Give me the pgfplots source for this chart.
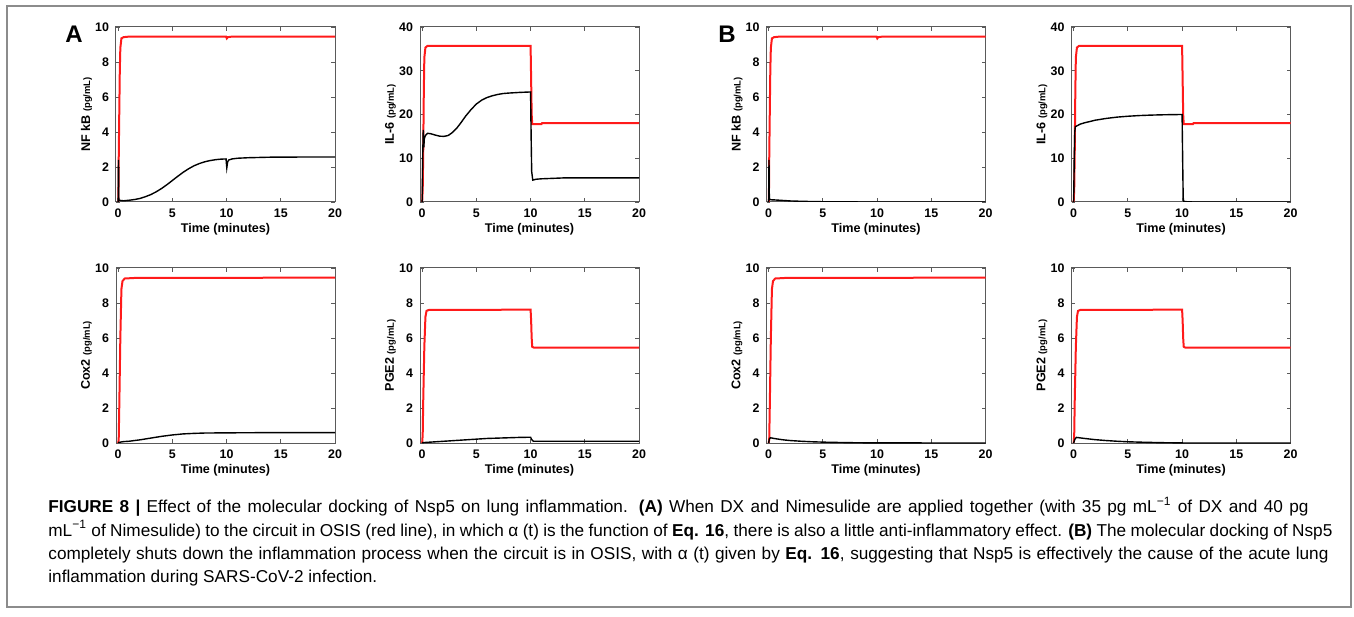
\documentclass[border=0pt]{standalone}
\usepackage{fontspec}
\setmainfont{Liberation Sans}
\usepackage{pgfplots}
\pgfplotsset{compat=1.18}
\definecolor{framegray}{HTML}{8C8C8C}
\definecolor{axgray}{HTML}{5A5A5A}
\definecolor{curvered}{HTML}{FF1A1A}

\pgfplotsset{
  panel/.style={
    scale only axis, width=109.5pt, height=87.5pt,
    xmin=-0.2, xmax=20, ymin=0,
    xtick={0,5,10,15,20},
    tick align=inside, major tick length=1.8pt,
    axis line style={axgray, line width=0.5pt},
    every tick/.style={axgray, line width=0.4pt},
    tick label style={font=\fontsize{6.2}{6.2}\selectfont\bfseries},
    /pgf/number format/assume math mode=true,
    xlabel={Time (minutes)},
    label style={font=\fontsize{6.3}{7}\selectfont\bfseries},
    xlabel style={at={(axis description cs:0.5,0)},anchor=center,yshift=-13.5pt},
    ylabel style={at={(axis description cs:-0.135,0.5)},anchor=center},
  },
  ten/.style={ymax=10, ytick={0,2,4,6,8,10}},
  forty/.style={ymax=40, ytick={0,10,20,30,40}},
  redc/.style={curvered, line width=1pt},
  blkc/.style={black, line width=0.7pt},
}
\newcommand{\unit}{{\fontsize{4.7}{5}\selectfont (pg/mL)}}

\begin{document}
\begin{tikzpicture}
\useasboundingbox (0,0) rectangle (677pt,308pt);
\draw[framegray, line width=0.75pt] (3.5pt,4.5pt) rectangle (675.5pt,305pt);

% ---------- panel A ----------
\begin{axis}[panel, ten, at={(58pt,207pt)}, anchor=south west, ylabel={NF kB \unit}]
\addplot[redc] coordinates {(0,0) (0.02,0) (0.05,2.4) (0.1,5) (0.15,7.5) (0.2,8.8) (0.3,9.35) (0.5,9.42) (1,9.45) (9.95,9.45) (10.02,9.35) (10.1,9.42) (10.5,9.45) (20,9.45)};
\addplot[blkc] coordinates {(0,0) (0.03,2.4) (0.06,0.1) (0.5,0.07) (1,0.1) (1.5,0.14) (2,0.2) (2.5,0.3) (3,0.42) (3.5,0.58) (4,0.77) (4.5,0.99) (5,1.23) (5.5,1.47) (6,1.7) (6.5,1.9) (7,2.07) (7.5,2.2) (8,2.3) (8.5,2.37) (9,2.42) (9.5,2.45) (9.95,2.46) (10.02,1.95) (10.1,2.3) (10.2,2.4) (10.5,2.46) (11,2.5) (12,2.53) (14,2.56) (17,2.57) (20,2.57)};
\end{axis}

\begin{axis}[panel, forty, at={(210pt,207pt)}, anchor=south west, ylabel={IL-6 \unit}]
\addplot[redc] coordinates {(0,0) (0.05,3) (0.1,12) (0.15,25) (0.2,33) (0.3,35.3) (0.5,35.7) (10,35.7) (10.05,28) (10.1,20) (10.15,17.8) (11,17.8) (11.05,18) (20,18)};
\addplot[blkc] coordinates {(0,0) (0.05,10.5) (0.1,16.5) (0.15,12.5) (0.2,14.5) (0.3,15.2) (0.5,15.7) (0.8,15.6) (1.2,15.3) (1.6,15.05) (2,15) (2.4,15.2) (2.8,15.9) (3.2,16.9) (3.6,18.2) (4,19.6) (4.5,21.1) (5,22.4) (5.5,23.3) (6,23.9) (6.5,24.3) (7,24.6) (7.5,24.8) (8,24.9) (9,25.05) (10,25.15) (10.05,15) (10.1,7) (10.2,5) (10.5,5.2) (11,5.3) (12,5.4) (13,5.5) (20,5.5)};
\end{axis}

\begin{axis}[panel, ten, at={(58pt,86.5pt)}, anchor=south west, ylabel={Cox2 \unit}]
\addplot[redc] coordinates {(0,0) (0.05,0.2) (0.1,2) (0.2,6) (0.3,8.8) (0.4,9.25) (0.6,9.4) (1.5,9.43) (20,9.45)};
\addplot[blkc] coordinates {(0,0.03) (0.5,0.08) (1,0.1) (2,0.18) (3,0.28) (4,0.38) (5,0.46) (6,0.52) (7,0.55) (8,0.57) (10,0.58) (13,0.59) (20,0.59)};
\end{axis}

\begin{axis}[panel, ten, at={(210pt,86.5pt)}, anchor=south west, ylabel={PGE2 \unit}]
\addplot[redc] coordinates {(0,0) (0.05,0.5) (0.1,2.5) (0.2,5.5) (0.3,7.2) (0.4,7.55) (0.6,7.6) (10,7.62) (10.05,7) (10.1,6) (10.15,5.5) (10.3,5.45) (20,5.45)};
\addplot[blkc] coordinates {(0,0.02) (1,0.06) (2,0.1) (3,0.14) (4,0.18) (5,0.22) (6,0.26) (7,0.28) (8,0.3) (9,0.32) (10,0.33) (10.1,0.2) (10.25,0.1) (11,0.1) (20,0.1)};
\end{axis}

% ---------- panel B ----------
\begin{axis}[panel, ten, at={(383.25pt,207pt)}, anchor=south west, ylabel={NF kB \unit}]
\addplot[redc] coordinates {(0,0) (0.02,0) (0.05,2.4) (0.1,5) (0.15,7.5) (0.2,8.8) (0.3,9.35) (0.5,9.42) (1,9.45) (9.95,9.45) (10.02,9.35) (10.1,9.42) (10.5,9.45) (20,9.45)};
\addplot[blkc] coordinates {(0,0) (0.03,2.4) (0.06,0.3) (0.1,0.13) (0.5,0.12) (1,0.1) (2,0.06) (3,0.04) (4,0.025) (5,0.015) (6,0.008) (8,0.003) (10,0) (20,0)};
\end{axis}

\begin{axis}[panel, forty, at={(535.75pt,207pt)}, anchor=south west, ylabel={IL-6 \unit}]
\addplot[redc] coordinates {(0,0) (0.05,3) (0.1,12) (0.15,25) (0.2,33) (0.3,35.3) (0.5,35.7) (10,35.7) (10.05,28) (10.1,20) (10.15,17.8) (11,17.8) (11.05,18) (20,18)};
\addplot[blkc] coordinates {(0,0) (0.05,10) (0.1,16) (0.15,17.2) (0.3,17.4) (0.6,17.8) (1,18.1) (1.5,18.4) (2,18.7) (3,19.1) (4,19.4) (5,19.6) (6,19.75) (7,19.85) (8,19.92) (9,19.97) (10,20) (10.05,10) (10.1,1) (10.15,0.1) (11,0) (20,0)};
\end{axis}

\begin{axis}[panel, ten, at={(383.25pt,86.5pt)}, anchor=south west, ylabel={Cox2 \unit}]
\addplot[redc] coordinates {(0,0) (0.05,0.2) (0.1,2) (0.2,6) (0.3,8.8) (0.4,9.25) (0.6,9.4) (1.5,9.43) (20,9.45)};
\addplot[blkc] coordinates {(0,0) (0.05,0.2) (0.15,0.3) (0.5,0.26) (1,0.21) (1.5,0.17) (2,0.14) (3,0.1) (4,0.07) (5,0.05) (6,0.035) (7,0.025) (8,0.015) (9,0.01) (10,0.005) (20,0)};
\end{axis}

\begin{axis}[panel, ten, at={(535.75pt,86.5pt)}, anchor=south west, ylabel={PGE2 \unit}]
\addplot[redc] coordinates {(0,0) (0.05,0.5) (0.1,2.5) (0.2,5.5) (0.3,7.2) (0.4,7.55) (0.6,7.6) (10,7.62) (10.05,7) (10.1,6) (10.15,5.5) (10.3,5.45) (20,5.45)};
\addplot[blkc] coordinates {(0,0) (0.1,0.2) (0.25,0.32) (0.5,0.3) (1,0.26) (2,0.19) (3,0.14) (4,0.1) (5,0.07) (6,0.05) (7,0.035) (8,0.02) (9,0.012) (10,0.008) (10.1,0) (20,0)};
\end{axis}

% panel letters
\node[anchor=base west, inner sep=0, font=\fontsize{12}{12}\selectfont\bfseries] at (32.5pt,286.5pt) {A};
\node[anchor=base west, inner sep=0, font=\fontsize{12}{12}\selectfont\bfseries] at (359pt,286.5pt) {B};

% caption, one line per node
\begin{scope}[every node/.style={anchor=base west, inner sep=0, font=\fontsize{8.6}{10}\selectfont}]
\node at (24pt,51.6pt) {\hbox to 630pt{\textbf{FIGURE 8 |} Effect of the molecular docking of Nsp5 on lung inflammation. \textbf{(A)} When DX and Nimesulide are applied together (with 35 pg mL\textsuperscript{−1} of DX and 40 pg}};
\node at (24pt,40pt) {\hbox to 642pt{mL\textsuperscript{−1} of Nimesulide) to the circuit in OSIS (red line), in which α (t) is the function of \textbf{Eq. 16}, there is also a little anti-inflammatory effect. \textbf{(B)} The molecular docking of Nsp5}};
\node at (24pt,28.3pt) {\hbox to 640pt{completely shuts down the inflammation process when the circuit is in OSIS, with α (t) given by \textbf{Eq. 16}, suggesting that Nsp5 is effectively the cause of the acute lung}};
\node at (24pt,16.6pt) {inflammation during SARS-CoV-2 infection.};
\end{scope}
\end{tikzpicture}
\end{document}
